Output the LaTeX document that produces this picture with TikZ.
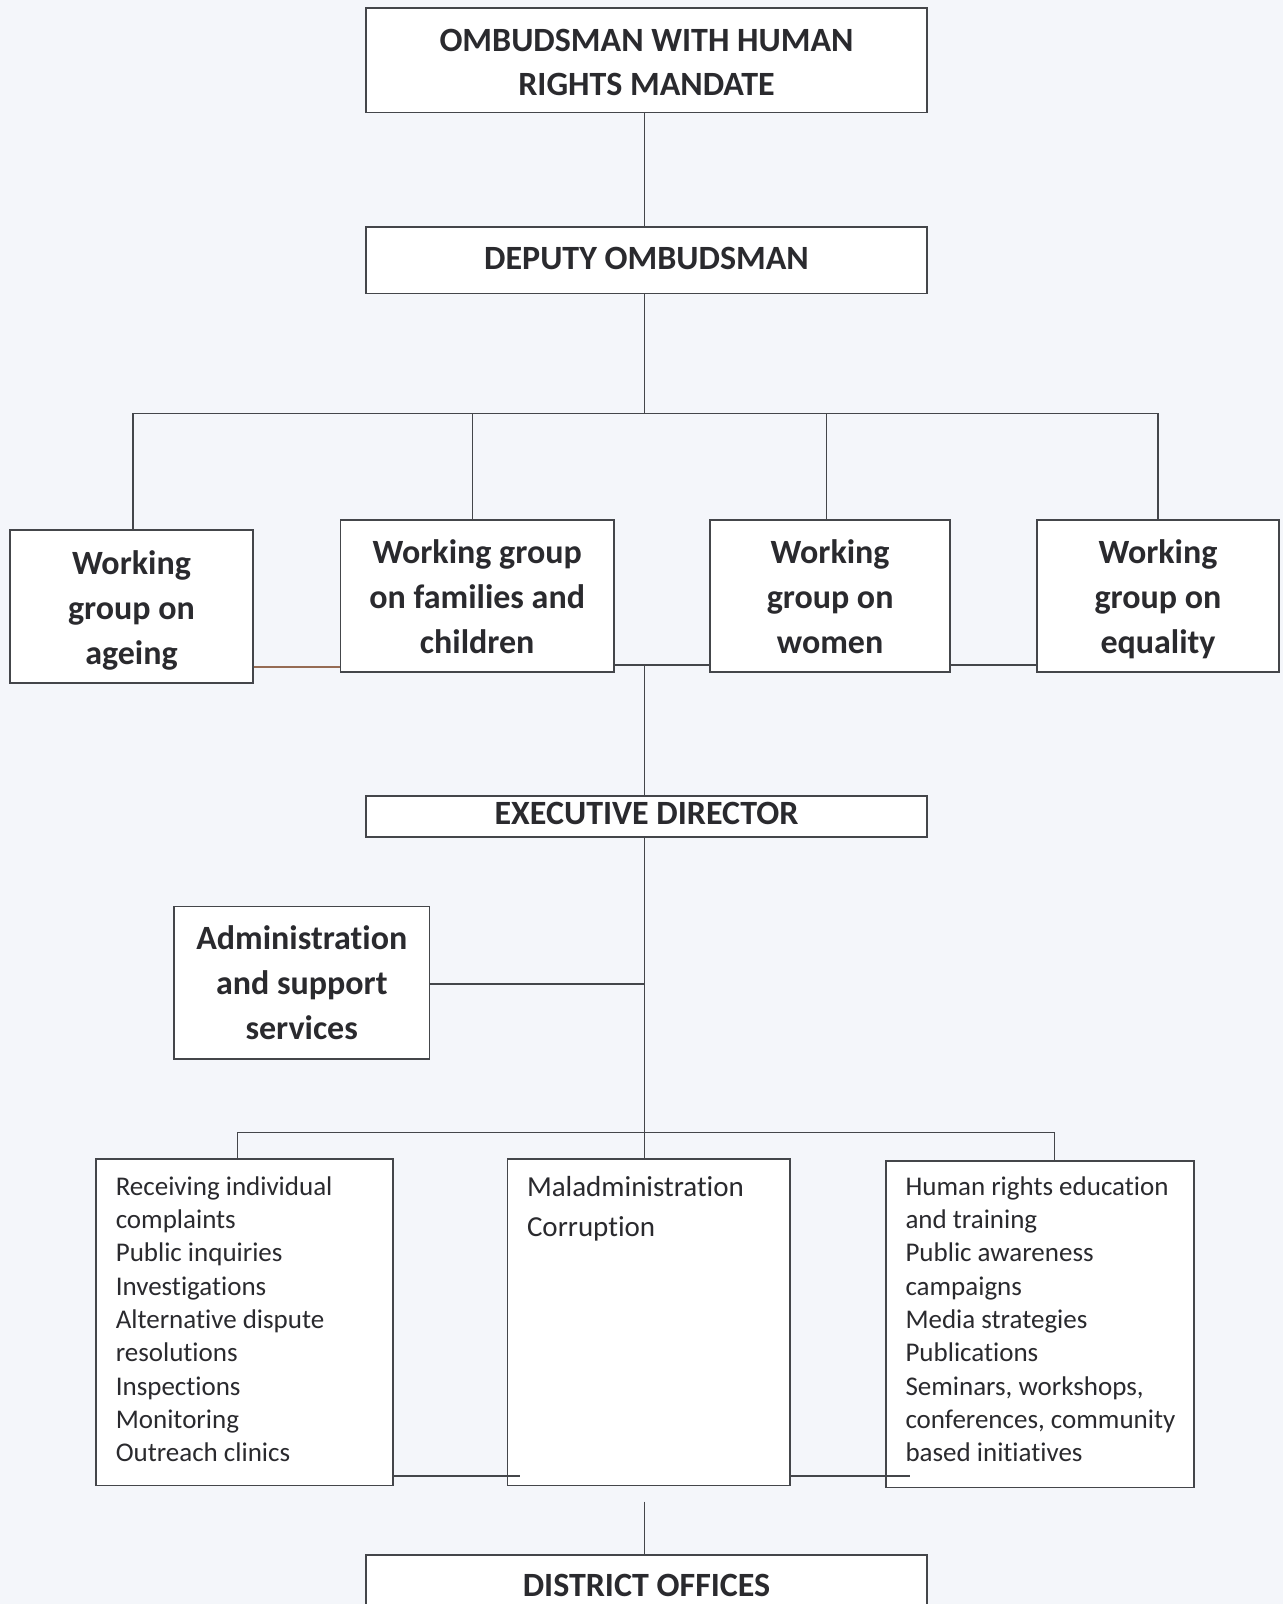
\documentclass[tikz,border=0pt]{standalone}
\usepackage{fontspec}
\setmainfont[Ligatures={NoCommon}]{Carlito}
\usetikzlibrary{fit}
\definecolor{bg}{RGB}{244,246,250}
\definecolor{ink}{RGB}{42,42,46}
\definecolor{edge}{RGB}{68,70,74}
\definecolor{brn}{RGB}{150,108,84}
\begin{document}
\begin{tikzpicture}[x=1.0231pt,y=-1.0231pt,
  box/.style={draw=edge, line width=1.7pt, fill=white, inner sep=0pt},
  head/.style={font=\bfseries\fontsize{34}{44}\selectfont, text=ink, align=center, inner sep=0pt},
  wg/.style={font=\bfseries\fontsize{34}{45}\selectfont, text=ink, align=center, inner sep=0pt},
  lst/.style={font=\fontsize{27}{33.3}\selectfont, text=ink, align=left, anchor=north west, inner sep=0pt},
  conn/.style={draw=edge, line width=1.4pt}]
\useasboundingbox[fill=bg] (0,0) rectangle (1254,1568);

% top levels
\node[box, fit={(358,8) (906,110)}] (top) {};
\node[head] (topT) at (632,61) {OMBUDSMAN WITH HUMAN\\RIGHTS MANDATE};
\node[box, fit={(358,222) (906,287)}] (dep) {};
\node[head] (depT) at (632,253) {DEPUTY OMBUDSMAN};

% working groups
\node[box, fit={(10,518) (247,668)}] (ageing) {};
\node[wg] (ageingT) at (128.5,597) {Working\\group on\\ageing};
\node[box, fit={(333,508) (600,657)}] (families) {};
\node[wg] (familiesT) at (466.5,583) {Working group\\on families and\\children};
\node[box, fit={(694,508) (929,657)}] (women) {};
\node[wg] (womenT) at (811.5,583) {Working\\group on\\women};
\node[box, fit={(1014,508) (1250,657)}] (equality) {};
\node[wg] (equalityT) at (1132,586) {Working\\group on\\equality};

% executive
\node[box, fit={(358,778) (906,818)}] (exec) {};
\node[head] (execT) at (632,795) {EXECUTIVE DIRECTOR};
\node[box, fit={(170,886) (420,1035)}] (admin) {};
\node[wg] (adminT) at (295,961) {Administration\\and support\\services};

% lists
\node[box, fit={(94,1133) (384,1452)}] (list1) {};
\node[box, fit={(496,1133) (772,1452)}] (list2) {};
\node[box, fit={(866,1135) (1167,1454)}] (list3) {};
\node[lst] (t1) at (113,1150) {Receiving individual\\complaints\\Public inquiries\\Investigations\\Alternative dispute\\resolutions\\Inspections\\Monitoring\\Outreach clinics};
\node[lst, font=\fontsize{29}{39.5}\selectfont] (t2) at (515,1150) {Maladministration\\Corruption};
\node[lst] (t3) at (885,1150) {Human rights education\\and training\\Public awareness\\campaigns\\Media strategies\\Publications\\Seminars, workshops,\\conferences, community\\based initiatives};

% district
\node[box, fit={(358,1520) (906,1600)}] (district) {};
\node[head] (dtext) at (632,1550) {DISTRICT OFFICES};

% connectors
\coordinate (hub1) at (630,404);
\coordinate (a1) at (130,404);
\coordinate (f1) at (462,404);
\coordinate (w1) at (808,404);
\coordinate (e1) at (1132,404);
\draw[conn] (hub1 |- top.south) -- (hub1 |- dep.north);
\draw[conn] (hub1 |- dep.south) -- (hub1);
\draw[conn] (a1 |- ageing.north) -- (a1) -- (e1) -- (e1 |- equality.north);
\draw[conn] (f1) -- (f1 |- families.north);
\draw[conn] (w1) -- (w1 |- women.north);

\coordinate (b1) at (630,652);
\coordinate (b2) at (630,650);
\draw[conn, draw=brn] (ageing.east |- b1) -- (families.west |- b1);
\draw[conn] (families.east |- b2) -- (women.west |- b2);
\draw[conn] (women.east |- b2) -- (equality.west |- b2);
\draw[conn] (b2) -- (b2 |- exec.north);

\coordinate (c1) at (630,962);
\coordinate (hub2) at (630,1107);
\coordinate (l1) at (232,1107);
\coordinate (r1) at (1031,1107);
\draw[conn] (hub2 |- exec.south) -- (hub2);
\draw[conn] (admin.east |- c1) -- (c1);
\draw[conn] (l1 |- list1.north) -- (l1) -- (r1) -- (r1 |- list3.north);
\draw[conn] (hub2) -- (hub2 |- list2.north);

\coordinate (s1) at (508,1443);
\coordinate (s2) at (890,1443);
\draw[conn] (list1.east |- s1) -- (s1);
\draw[conn] (list2.east |- s2) -- (s2);

\coordinate (d1) at (630,1468);
\draw[conn] (d1) -- (d1 |- district.north);
\end{tikzpicture}
\end{document}
